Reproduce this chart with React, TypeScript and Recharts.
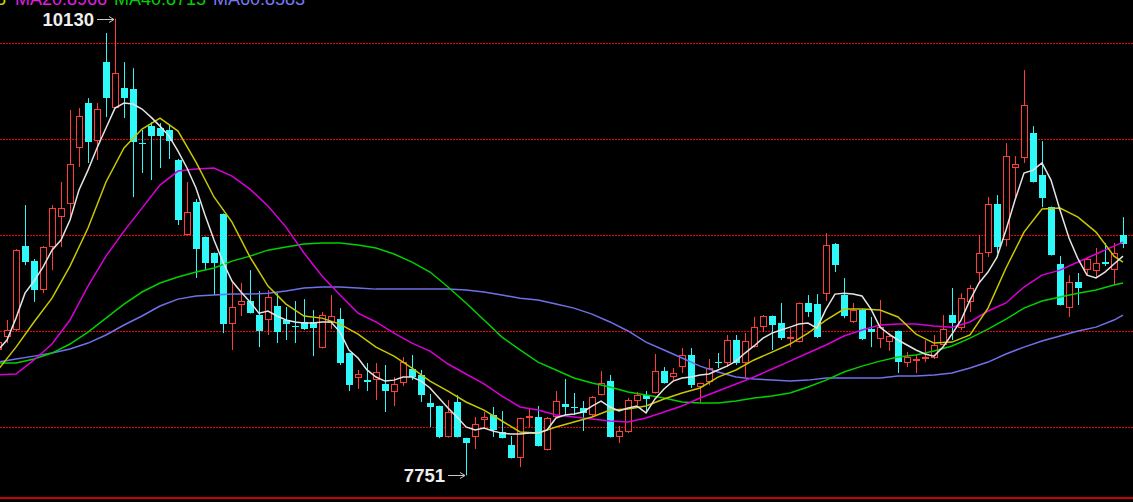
import React from 'react';
import { ComposedChart, Bar, Line, XAxis, YAxis, ReferenceLine, ReferenceDot, CartesianGrid } from 'recharts';

// ---- candle data (index starts at -1, one entry per trading day) ----
const FIRST_INDEX = -1;
const OPEN = [
  8404, 8471, 8508, 8945, 8867, 8716, 8940, 9096, 9164, 9456,
  9690, 9492, 9904, 9664, 9768, 9763, 9482, 9570, 9560, 9550,
  9393, 9003, 9175, 8992, 8909, 9112, 8539, 8638, 8659, 8586,
  8560, 8633, 8560, 8529, 8550, 8550, 8414, 8544, 8565, 8388,
  8258, 8247, 8247, 8227, 8185, 8232, 8305, 8274, 8128, 8112,
  7951, 8133, 7945, 7951, 8039, 8065, 7977, 7909, 7841, 8050,
  8055, 7883, 8055, 8123, 8107, 8102, 8065, 8169, 8242, 7951,
  7977, 8138, 8169, 8180, 8294, 8263, 8315, 8378, 8211, 8237,
  8341, 8336, 8456, 8336, 8419, 8523, 8581, 8544, 8461, 8445,
  8649, 8643, 8695, 8956, 8690, 8550, 8612, 8513, 8461, 8445,
  8503, 8336, 8346, 8357, 8362, 8430, 8586, 8518, 8654, 8805,
  8909, 9164, 8977, 9352, 9404, 9534, 9315, 9148, 8852, 8622,
  8758, 8820, 8815, 8862, 8820, 9003,
];
const HIGH = [
  8477, 8560, 8930, 9159, 8878, 8945, 9159, 9279, 9654, 9664,
  9716, 9690, 10055, 10130, 9904, 9872, 9550, 9591, 9586, 9581,
  9399, 9279, 9190, 8995, 8912, 9115, 8753, 8753, 8820, 8711,
  8716, 8700, 8628, 8659, 8669, 8612, 8602, 8690, 8622, 8390,
  8300, 8336, 8336, 8326, 8263, 8367, 8378, 8300, 8175, 8114,
  8143, 8169, 7947, 8055, 8081, 8107, 8086, 7956, 8052, 8102,
  8112, 8055, 8190, 8253, 8180, 8138, 8164, 8294, 8274, 8008,
  8154, 8185, 8190, 8383, 8315, 8310, 8414, 8414, 8234, 8357,
  8388, 8482, 8482, 8492, 8576, 8586, 8583, 8649, 8518, 8651,
  8690, 8695, 9013, 8961, 8779, 8649, 8617, 8576, 8664, 8492,
  8505, 8393, 8383, 8456, 8482, 8586, 8727, 8700, 8742, 9003,
  9201, 9211, 9482, 9414, 9862, 9570, 9492, 9151, 8893, 8794,
  8805, 8888, 8935, 8961, 8961, 9096,
];
const LOW = [
  8372, 8440, 8503, 8846, 8654, 8700, 8820, 8940, 9096, 9357,
  9378, 9393, 9617, 9660, 9612, 9200, 9326, 9289, 9352, 9399,
  9055, 9000, 8779, 8820, 8690, 8492, 8404, 8581, 8594, 8419,
  8482, 8440, 8456, 8440, 8508, 8372, 8412, 8513, 8326, 8190,
  8201, 8190, 8143, 8081, 8112, 8216, 8247, 8133, 8003, 7945,
  7948, 7948, 7751, 7888, 7997, 7951, 7943, 7839, 7794, 8003,
  7901, 7880, 8052, 8060, 8065, 7982, 8055, 8167, 7948, 7919,
  7971, 8117, 8076, 8177, 8229, 8247, 8284, 8206, 8128, 8221,
  8310, 8315, 8326, 8263, 8417, 8497, 8404, 8456, 8419, 8443,
  8576, 8466, 8659, 8810, 8570, 8544, 8456, 8419, 8414, 8399,
  8284, 8315, 8284, 8341, 8357, 8427, 8456, 8508, 8602, 8758,
  8888, 8909, 8945, 9200, 9378, 9276, 9148, 8896, 8636, 8576,
  8638, 8794, 8779, 8841, 8742, 8935,
];
const CLOSE = [
  8445, 8508, 8925, 8862, 8716, 8940, 9143, 9143, 9373, 9622,
  9487, 9659, 9716, 9846, 9716, 9487, 9477, 9518, 9518, 9492,
  9081, 9122, 8930, 8857, 8857, 8539, 8628, 8659, 8596, 8503,
  8680, 8497, 8539, 8523, 8513, 8518, 8586, 8581, 8336, 8221,
  8279, 8237, 8289, 8190, 8227, 8341, 8263, 8169, 8107, 7951,
  8081, 7951, 7919, 8018, 8055, 7987, 7945, 7841, 8050, 8060,
  7904, 8050, 8138, 8107, 8102, 8076, 8159, 8232, 7951, 7982,
  8143, 8169, 8149, 8294, 8232, 8284, 8378, 8221, 8232, 8310,
  8336, 8456, 8336, 8451, 8523, 8581, 8534, 8466, 8471, 8649,
  8602, 8471, 8951, 8846, 8581, 8612, 8461, 8497, 8523, 8477,
  8341, 8367, 8357, 8367, 8430, 8513, 8544, 8674, 8727, 8909,
  9164, 8940, 9414, 9373, 9680, 9279, 9195, 8898, 8638, 8758,
  8727, 8878, 8857, 8852, 8909, 8956,
];

// ---- moving averages ----
// MA5 (white): one value per day, same indices as the candles
const MA5 = [
  8404, 8456, 8570, 8700, 8763, 8836, 8924, 8977, 9081, 9237,
  9341, 9456, 9560, 9664, 9690, 9685, 9659, 9617, 9570, 9518,
  9440, 9352, 9248, 9107, 8977, 8862, 8763, 8706, 8654, 8596,
  8607, 8581, 8560, 8550, 8544, 8544, 8550, 8550, 8497, 8404,
  8362, 8300, 8263, 8242, 8247, 8263, 8263, 8242, 8206, 8154,
  8102, 8055, 8003, 7987, 7997, 7982, 7971, 7966, 7966, 7971,
  7971, 7987, 8050, 8065, 8070, 8081, 8112, 8138, 8107, 8086,
  8102, 8112, 8076, 8149, 8201, 8242, 8258, 8263, 8274, 8279,
  8300, 8320, 8346, 8388, 8425, 8466, 8492, 8508, 8523, 8539,
  8544, 8518, 8617, 8695, 8700, 8695, 8685, 8617, 8523, 8487,
  8456, 8430, 8404, 8383, 8372, 8419, 8487, 8560, 8664, 8753,
  8810, 8888, 9029, 9185, 9326, 9341, 9378, 9289, 9133, 8987,
  8878, 8794, 8779, 8810, 8852, 8893,
];
// slower averages sampled every second day (day indices below)
const MA_SAMPLE_DAYS = [
  -1, 1, 3, 5, 7, 9, 11, 13, 15, 17,
  19, 21, 23, 25, 27, 29, 31, 33, 35, 37,
  39, 41, 43, 45, 47, 49, 51, 53, 55, 57,
  59, 61, 63, 65, 67, 69, 71, 73, 75, 77,
  79, 81, 83, 85, 87, 89, 91, 93, 95, 97,
  99, 101, 103, 105, 107, 109, 111, 113, 115, 117,
  119, 121, 123, 124,
];
const MA10 = [
  8300, 8419, 8550, 8674, 8841, 9039, 9279, 9456, 9555, 9612,
  9544, 9383, 9201, 9070, 8888, 8737, 8643, 8581, 8570, 8539,
  8487, 8419, 8372, 8310, 8242, 8190, 8133, 8091, 8034, 7977,
  7971, 8003, 8029, 8055, 8091, 8096, 8112, 8149, 8180, 8206,
  8263, 8300, 8352, 8393, 8435, 8492, 8560, 8617, 8617, 8612,
  8576, 8487, 8440, 8445, 8482, 8622, 8831, 9018, 9138, 9143,
  9096, 9018, 8893, 8862,
];
const MA20 = [
  8274, 8279, 8352, 8435, 8560, 8737, 8893, 9023, 9143, 9263,
  9336, 9347, 9352, 9310, 9242, 9154, 9044, 8909, 8789, 8690,
  8596, 8550, 8492, 8440, 8398, 8331, 8279, 8227, 8164, 8107,
  8091, 8065, 8055, 8044, 8034, 8029, 8050, 8081, 8112, 8154,
  8190, 8227, 8263, 8305, 8346, 8388, 8430, 8477, 8508, 8534,
  8539, 8539, 8529, 8523, 8550, 8607, 8649, 8732, 8794, 8820,
  8862, 8904, 8945, 8966,
];
const MA40 = [
  8336, 8336, 8357, 8388, 8435, 8497, 8570, 8643, 8706, 8753,
  8784, 8810, 8831, 8867, 8893, 8924, 8940, 8956, 8961, 8961,
  8951, 8935, 8904, 8862, 8810, 8732, 8649, 8560, 8471, 8404,
  8341, 8300, 8258, 8232, 8211, 8185, 8169, 8154, 8133, 8128,
  8128, 8138, 8154, 8164, 8180, 8211, 8247, 8289, 8320, 8346,
  8367, 8378, 8399, 8425, 8466, 8513, 8565, 8622, 8659, 8680,
  8700, 8716, 8742, 8753,
];
const MA60 = [
  8341, 8357, 8372, 8388, 8409, 8440, 8482, 8534, 8581, 8633,
  8669, 8685, 8690, 8695, 8695, 8700, 8711, 8727, 8732, 8732,
  8727, 8721, 8721, 8721, 8721, 8721, 8716, 8706, 8690, 8674,
  8664, 8643, 8622, 8591, 8550, 8503, 8445, 8404, 8362, 8320,
  8289, 8263, 8253, 8247, 8242, 8247, 8258, 8258, 8258, 8258,
  8268, 8268, 8274, 8284, 8310, 8341, 8383, 8419, 8451, 8477,
  8503, 8523, 8560, 8586,
];

const GRID_PRICES = [10000, 9500, 9000, 8500, 8000];
const PEAK = { day: 12, price: 10130 };
const TROUGH = { day: 51, price: 7751 };
const LEGEND = [
  { text: '5', color: '#d4d400', left: -4 },
  { text: 'MA20:8966', color: '#e020e0', left: 15 },
  { text: 'MA40:8715', color: '#00d000', left: 114 },
  { text: 'MA60:8583', color: '#7878f0', left: 213 },
];

const Y_MIN = 7633;
const Y_MAX = 10227;
const X_MIN = -7 / 9;
const X_MAX = X_MIN + 1133 / 9;

const RED = '#ff3c3c';
const CYAN = '#2ef8f8';

const candles = OPEN.map((o, i) => ({
  k: FIRST_INDEX + i,
  open: o,
  high: HIGH[i],
  low: LOW[i],
  close: CLOSE[i],
}));
const ma5Data = MA5.map((v, i) => ({ k: FIRST_INDEX + i, v }));
const toSeries = (vals: number[]) => vals.map((v, i) => ({ k: MA_SAMPLE_DAYS[i], v }));
const ma10Data = toSeries(MA10);
const ma20Data = toSeries(MA20);
const ma40Data = toSeries(MA40);
const ma60Data = toSeries(MA60);

const Candle = (props: any) => {
  const { x, y, width, height, payload } = props;
  if (!payload || height == null) return null;
  const { open, close, high, low } = payload;
  const up = close >= open;
  const color = up ? RED : CYAN;
  const ratio = height / Math.max(high - low, 1e-6);
  const center = x + width / 2;
  const L = Math.round(center) - 3;
  const wx = L + 3.5;
  const top = y + (high - Math.max(open, close)) * ratio;
  const bot = y + (high - Math.min(open, close)) * ratio;
  const tY = Math.round(top);
  const bY = Math.max(Math.round(bot), tY + 1);
  if (up) {
    return (
      <g>
        <line x1={wx} x2={wx} y1={y} y2={tY} stroke={color} strokeWidth={1} />
        <line x1={wx} x2={wx} y1={bY} y2={y + height} stroke={color} strokeWidth={1} />
        <rect x={L + 0.5} y={tY + 0.5} width={6} height={Math.max(bY - tY - 1, 0)} fill="#000" stroke={color} strokeWidth={1} />
      </g>
    );
  }
  return (
    <g>
      <line x1={wx} x2={wx} y1={y} y2={y + height} stroke={color} strokeWidth={1} />
      <rect x={L} y={tY} width={7} height={Math.max(bY - tY, 1)} fill={color} />
    </g>
  );
};

const makeMarker = (text: string) => (p: any) => {
  const cx = Math.round(p.cx);
  const cy = Math.round(p.cy) + 0.5;
  return (
    <g>
      <text
        x={cx - 21}
        y={cy}
        textAnchor="end"
        dominantBaseline="central"
        fill="#eeeeee"
        fontFamily='"Liberation Sans", Arial, sans-serif'
        fontWeight={700}
        fontSize={18.5}
      >
        {text}
      </text>
      <line x1={cx - 18} x2={cx - 1} y1={cy} y2={cy} stroke="#c8c8c8" strokeWidth={1} />
      <path d={`M${cx - 6},${cy - 3} L${cx - 1},${cy} L${cx - 6},${cy + 3}`} fill="none" stroke="#c8c8c8" strokeWidth={1} />
    </g>
  );
};

// horizontal grid rows at the round prices, mapped through the plot's y range
const gridRows = (args: any) => {
  const off = args?.offset;
  const top = off && typeof off.top === 'number' ? off.top : 0;
  const h = off && typeof off.height === 'number' ? off.height : 498;
  return GRID_PRICES.map((p) => Math.floor(top + ((Y_MAX - p) / (Y_MAX - Y_MIN)) * h) + 0.5);
};

export default function App() {
  return (
    <div style={{ position: 'fixed', left: 0, top: 0, width: 1133, height: 502, background: '#000', overflow: 'hidden' }}>
      <ComposedChart
        width={1133}
        height={502}
        data={candles}
        margin={{ top: 0, right: 0, bottom: 4, left: 0 }}
      >
        <XAxis dataKey="k" type="number" domain={[X_MIN, X_MAX]} allowDataOverflow hide />
        <YAxis type="number" domain={[Y_MIN, Y_MAX]} allowDataOverflow hide />
        <CartesianGrid
          vertical={false}
          horizontalCoordinatesGenerator={gridRows}
          stroke="#ee0000"
          strokeDasharray="2 1"
          strokeWidth={1}
        />
        <ReferenceLine y={Y_MIN} stroke="#c80000" strokeWidth={2} />
        <Bar
          dataKey={(d: any) => [d.low, d.high]}
          barSize={7}
          shape={<Candle />}
          isAnimationActive={false}
        />
        <Line data={ma60Data} dataKey="v" type="linear" dot={false} stroke="#7070e8" strokeWidth={1.5} isAnimationActive={false} />
        <Line data={ma40Data} dataKey="v" type="linear" dot={false} stroke="#00d000" strokeWidth={1.5} isAnimationActive={false} />
        <Line data={ma20Data} dataKey="v" type="linear" dot={false} stroke="#d800d8" strokeWidth={1.5} isAnimationActive={false} />
        <Line data={ma10Data} dataKey="v" type="linear" dot={false} stroke="#c8c800" strokeWidth={1.5} isAnimationActive={false} />
        <Line data={ma5Data} dataKey="v" type="linear" dot={false} stroke="#e4e4e4" strokeWidth={1.5} isAnimationActive={false} />
        <ReferenceDot x={PEAK.day} y={PEAK.price} r={0} shape={makeMarker(String(PEAK.price))} />
        <ReferenceDot x={TROUGH.day} y={TROUGH.price} r={0} shape={makeMarker(String(TROUGH.price))} />
      </ComposedChart>
      {LEGEND.map((l) => (
        <div
          key={l.text}
          style={{
            position: 'absolute',
            left: l.left,
            top: -10,
            fontSize: 18,
            lineHeight: '18px',
            fontFamily: '"Liberation Sans", Arial, sans-serif',
            color: l.color,
            whiteSpace: 'nowrap',
          }}
        >
          {l.text}
        </div>
      ))}
    </div>
  );
}
